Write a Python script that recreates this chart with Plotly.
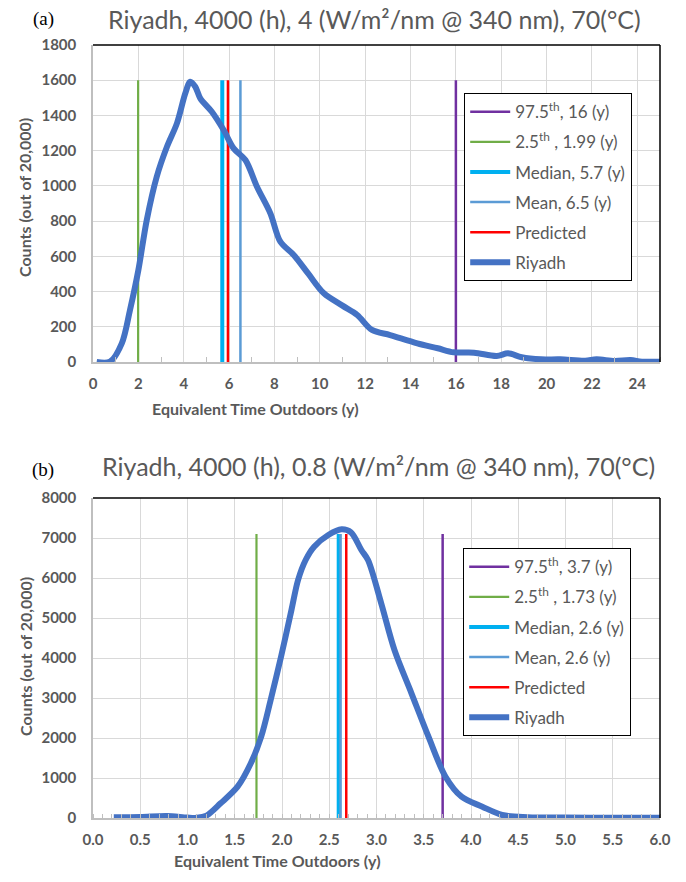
import plotly.graph_objects as go

W, H = 686, 882
M = 10  # plot-area margin on every side; paper coords are mapped inside it

# ---------------- data (a) ----------------
a_x = [0.16, 0.75, 1.27, 1.63, 2.0, 2.37, 2.81, 3.26, 3.70, 4.07, 4.29, 4.51, 4.73, 5.24, 5.76,
       6.2, 6.72, 7.23, 7.82, 8.26, 8.85, 9.5, 10.18, 11.0, 11.65, 12.3, 13.1, 14.3, 15.2, 15.9,
       16.8, 17.8, 18.3, 18.9, 19.75, 20.6, 21.7, 22.2, 23.0, 23.7, 24.2, 25.0]
a_y = [0, 2, 106, 295, 522, 806, 1052, 1222, 1355, 1526, 1592, 1563, 1497, 1421, 1317,
       1213, 1147, 995, 844, 683, 608, 500, 390, 320, 267, 182, 153, 106, 78, 55,
       53, 34, 49, 27, 15, 15, 7, 15, 6, 11, 2, 2]
a_lines = {"p975": 16.0, "p25": 1.99, "median": 5.7, "mean": 6.5, "pred": 5.95}
a_line_top = 1600
a_title = "Riyadh, 4000 (h), 4 (W/m²/nm @ 340 nm), 70(°C)"
a_names = ["97.5<sup>th</sup>, 16 (y)", "2.5<sup>th</sup> , 1.99 (y)", "Median, 5.7 (y)",
           "Mean, 6.5 (y)", "Predicted", "Riyadh"]

# ---------------- data (b) ----------------
b_x = [0.22, 0.5, 0.78, 1.0, 1.1, 1.2, 1.35, 1.53, 1.67, 1.78, 1.88, 1.99, 2.10, 2.17, 2.25,
       2.34, 2.49, 2.63, 2.73, 2.84, 2.91, 3.05, 3.19, 3.37, 3.55, 3.73, 3.90, 4.12, 4.33,
       4.6, 5.0, 5.5, 6.0]
b_y = [18, 25, 50, 10, 5, 60, 367, 783, 1367, 2033, 2950, 4033, 5200, 5950, 6450,
       6783, 7075, 7217, 7140, 6700, 6450, 5367, 4200, 3117, 2033, 1033, 533, 283, 75,
       20, 10, 5, 5]
b_lines = {"p975": 3.7, "p25": 1.73, "median": 2.6, "mean": 2.62, "pred": 2.68}
b_line_top = 7100
b_title = "Riyadh, 4000 (h), 0.8 (W/m²/nm @ 340 nm), 70(°C)"
b_names = ["97.5<sup>th</sup>, 3.7 (y)", "2.5<sup>th</sup> , 1.73 (y)", "Median, 2.6 (y)",
           "Mean, 2.6 (y)", "Predicted", "Riyadh"]

x_tick_b = [0.0, 0.5, 1.0, 1.5, 2.0, 2.5, 3.0, 3.5, 4.0, 4.5, 5.0, 5.5, 6.0]

line_styles = [("p975", "#7030A0", 2.5), ("p25", "#70AD47", 2.2), ("median", "#00B0F0", 4),
               ("mean", "#5B9BD5", 2.5), ("pred", "#FF0000", 2.5)]
CURVE = "#4472C4"
GRAY = "#595959"
FONT = "Lato"


def px(x):
    return (x - M) / (W - 2 * M)


def py(y):
    return 1 - (y - M) / (H - 2 * M)


fig = go.Figure()


def add_panel(xs, ys, lines, top, names, xa, ya, leg):
    for i, (key, col, wid) in enumerate(line_styles):
        fig.add_trace(go.Scatter(
            x=[lines[key], lines[key]], y=[0, top], mode="lines",
            line=dict(color=col, width=wid), name=names[i], xaxis=xa, yaxis=ya,
            legend=leg, legendgroup=leg + key, legendrank=i + 1, hoverinfo="skip"))
    fig.add_trace(go.Scatter(
        x=xs, y=ys, mode="lines", line=dict(color=CURVE, width=6, shape="spline", smoothing=0.9),
        name=names[5], xaxis=xa, yaxis=ya, legend=leg, legendgroup=leg + "curve", legendrank=6))


add_panel(a_x, a_y, a_lines, a_line_top, a_names, "x", "y", "legend")
add_panel(b_x, b_y, b_lines, b_line_top, b_names, "x2", "y2", "legend2")

xdom = [px(93), px(660)]
dom_a = [py(362), py(45)]
dom_b = [py(818), py(498)]

tickfont = dict(family=FONT, size=15, color=GRAY, weight="bold")
common_x = dict(showgrid=True, gridcolor="#D9D9D9", gridwidth=1, showline=True,
                linecolor="#BFBFBF", linewidth=1.5, zeroline=False, ticks="",
                tickfont=tickfont, ticklabelstandoff=7, fixedrange=True)
common_y = dict(showgrid=True, gridcolor="#D9D9D9", gridwidth=1, showline=True,
                linecolor="#BFBFBF", linewidth=1.5, zeroline=False, ticks="",
                tickfont=tickfont, ticklabelstandoff=12, fixedrange=True)

legend_style = dict(bgcolor="white", bordercolor="black", borderwidth=1.2,
                    font=dict(family=FONT, size=17, color=GRAY), tracegroupgap=5,
                    itemwidth=40, xanchor="left", yanchor="top", itemclick=False)

fig.update_layout(
    width=W, height=H, margin=dict(l=M, r=M, t=M, b=M, autoexpand=False),
    paper_bgcolor="white", plot_bgcolor="white",
    xaxis=dict(domain=xdom, range=[0, 25], anchor="y", tick0=0, dtick=2,
               minor=dict(ticks="inside", dtick=1, ticklen=5, tickcolor="#BFBFBF", showgrid=False),
               **common_x),
    yaxis=dict(domain=dom_a, range=[0, 1800], anchor="x", dtick=200, **common_y),
    xaxis2=dict(domain=xdom, range=[0, 6], anchor="y2", tickvals=x_tick_b,
                ticktext=[f"{v:.1f}" for v in x_tick_b],
                minor=dict(ticks="inside", dtick=0.1, ticklen=4, tickcolor="#BFBFBF", showgrid=False),
                **common_x),
    yaxis2=dict(domain=dom_b, range=[0, 8000], anchor="x2", dtick=1000, **common_y),
    legend=dict(x=px(464), y=py(93), **legend_style),
    legend2=dict(x=px(463), y=py(548), **legend_style),
    showlegend=True,
)

# chart borders (top and right) in black
for xa, ya in (("x", "y"), ("x2", "y2")):
    fig.add_shape(type="line", xref=f"{xa} domain", yref=f"{ya} domain", x0=0, x1=1, y0=1, y1=1,
                  line=dict(color="black", width=1.5))
    fig.add_shape(type="line", xref=f"{xa} domain", yref=f"{ya} domain", x0=1, x1=1, y0=0, y1=1,
                  line=dict(color="black", width=1.5))


def ann(text, x, y, size, color=GRAY, family=FONT, bold=False, angle=0):
    fig.add_annotation(text=text, x=px(x), y=py(y), xref="paper", yref="paper",
                       showarrow=False, xanchor="center", yanchor="middle", textangle=angle,
                       font=dict(family=family, size=size, color=color,
                                 weight="bold" if bold else "normal"))


ann(a_title, 374, 19, 25)
ann(b_title, 378, 466, 25)
ann("(a)", 43, 19, 19, color="black", family="Liberation Serif")
ann("(b)", 43, 470, 19, color="black", family="Liberation Serif")
ann("Counts (out of 20,000)", 25, 198, 16, bold=True, angle=-90)
ann("Counts (out of 20,000)", 25, 657, 16, bold=True, angle=-90)
ann("Equivalent Time Outdoors (y)", 255, 408, 16, bold=True)
ann("Equivalent Time Outdoors (y)", 277, 860, 16, bold=True)

fig.write_html("out.html")
